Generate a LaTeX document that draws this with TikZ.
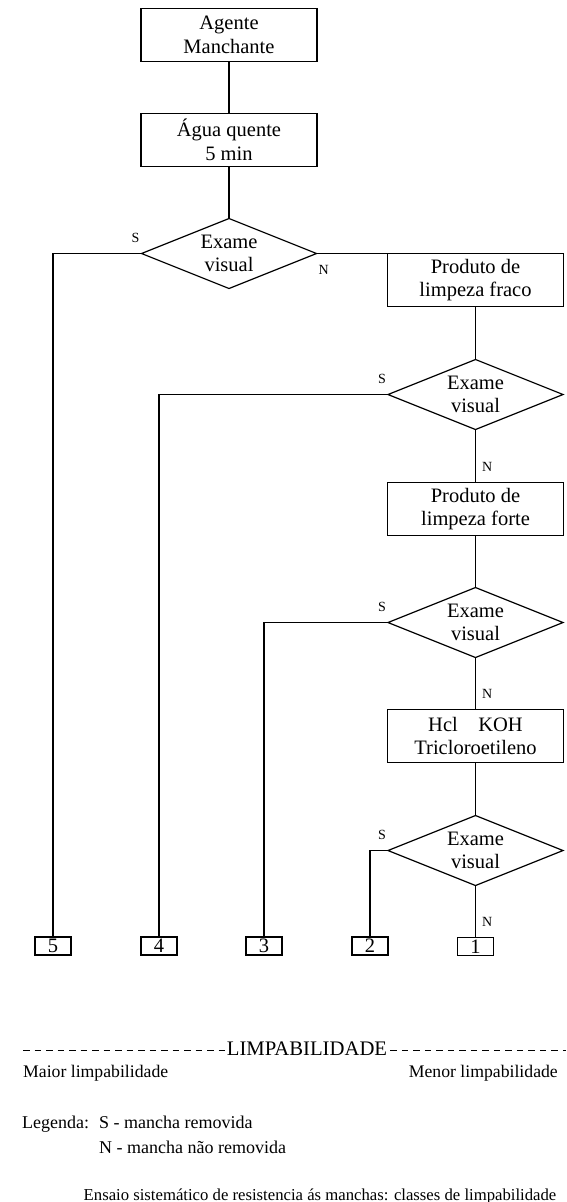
\documentclass[tikz,border=0pt]{standalone}
\usepackage{fontspec}
\setmainfont{Liberation Serif}
\usetikzlibrary{positioning, shapes.geometric}

\begin{document}
\begin{tikzpicture}[
        x=1pt, y=-1pt,
        every node/.style={font=\fontsize{20.5}{23.5}\selectfont}, % texto principal
        box/.style={draw=black, line width=1.2pt, rectangle, align=center, minimum width=176pt, minimum height=53pt, inner sep=0pt, outer sep=0pt},
        exame/.style={draw=black, line width=1.2pt, diamond, aspect=2.5, align=center, minimum width=175pt, minimum height=70pt, inner sep=0pt, outer sep=0pt},
        classe/.style={draw=black, line width=1.2pt, rectangle, minimum width=36pt, minimum height=18pt, inner sep=0pt, outer sep=0pt},
        resp/.style={font=\fontsize{14}{16}\selectfont, inner sep=0pt},
        linha/.style={line width=1.2pt, draw=black},
        legenda/.style={font=\fontsize{18}{21}\selectfont, inner sep=0pt, anchor=base west}
    ]
        \useasboundingbox (0,0) rectangle (566,1202);

        % --- Coluna inicial ---
        \node[box] (agente) at (229,35) {Agente\\Manchante};
        \node[box, below=52pt of agente] (agua) {Água quente\\5 min};
        \node[exame, below=52pt of agua] (ex1) {Exame\\visual};

        % --- Coluna da direita ---
        \node[box, right=71pt of ex1.east, anchor=north west] (fraco) {Produto de\\limpeza fraco};
        \node[exame, below=53pt of fraco] (ex2) {Exame\\visual};
        \node[box, below=53pt of ex2] (forte) {Produto de\\limpeza forte};
        \node[exame, below=52pt of forte] (ex3) {Exame\\visual};
        \node[box, below=52pt of ex3] (hcl) {Hcl\hspace{1em}KOH\\Tricloroetileno};
        \node[exame, below=53pt of hcl] (ex4) {Exame\\visual};

        % --- Classes de limpabilidade ---
        \node[classe, below=52pt of ex4] (c1) {1};
        \foreach \n/\x in {5/53, 4/159, 3/264, 2/370}
            \node[classe] (c\n) at (\x,946) {\n};

        % --- Ligacoes ---
        \draw[linha] (agente) -- (agua);
        \draw[linha] (agua) -- (ex1);
        \draw[linha] (ex1.west) -| (c5.north);
        \draw[linha] (ex1.east) -- (fraco.north west);
        \draw[linha] (fraco) -- (ex2);
        \draw[linha] (ex2.west) -| (c4.north);
        \draw[linha] (ex2) -- node[resp, pos=0.7, right=6pt] {N} (forte);
        \draw[linha] (forte) -- (ex3);
        \draw[linha] (ex3.west) -| (c3.north);
        \draw[linha] (ex3) -- node[resp, pos=0.7, right=6pt] {N} (hcl);
        \draw[linha] (hcl) -- (ex4);
        \draw[linha] (ex4.west) -| (c2.north);
        \draw[linha] (ex4) -- node[resp, pos=0.7, right=6pt] {N} (c1);

        % --- Respostas S / N ---
        \node[resp, above left=11pt and 2pt of ex1.west] (s1) {S};
        \node[resp, below right=12pt and 2pt of ex1.east] (n1) {N};
        \node[resp, above left=11pt and 2pt of ex2.west] (s2) {S};
        \node[resp, above left=11pt and 2pt of ex3.west] (s3) {S};
        \node[resp, above left=11pt and 2pt of ex4.west] (s4) {S};

        % --- Escala de limpabilidade ---
        \node[font=\fontsize{20.7}{24}\selectfont, inner sep=0pt, anchor=base] (limp) at (307,1055) {LIMPABILIDADE};
        \coordinate (tracoE) at (23,1050);
        \coordinate (tracoD) at (566,1050);
        \draw[line width=1pt, dash pattern=on 6.5pt off 5pt] (tracoE) -- (tracoE -| limp.west);
        \draw[line width=1pt, dash pattern=on 6.5pt off 5pt] ([xshift=3pt]limp.east |- tracoD) -- (tracoD);
        \node[font=\fontsize{17.7}{21}\selectfont, inner sep=0pt, anchor=base west] (maior) at (23,1077) {Maior limpabilidade};
        \node[font=\fontsize{17.7}{21}\selectfont, inner sep=0pt, anchor=base east] (menor) at (558,1077) {Menor limpabilidade};

        % --- Legenda ---
        \node[legenda] (leg) at (22,1128) {Legenda:};
        \node[legenda] (legS) at (99,1128) {S - mancha removida};
        \node[legenda] (legN) at (99,1153) {N - mancha não removida};

        % --- Titulo ---
        \node[font=\fontsize{16.7}{20}\selectfont, inner sep=0pt, anchor=base] (titulo) at (320,1200) {Ensaio sistemático de resistencia ás manchas: classes de limpabilidade};
\end{tikzpicture}
\end{document}
